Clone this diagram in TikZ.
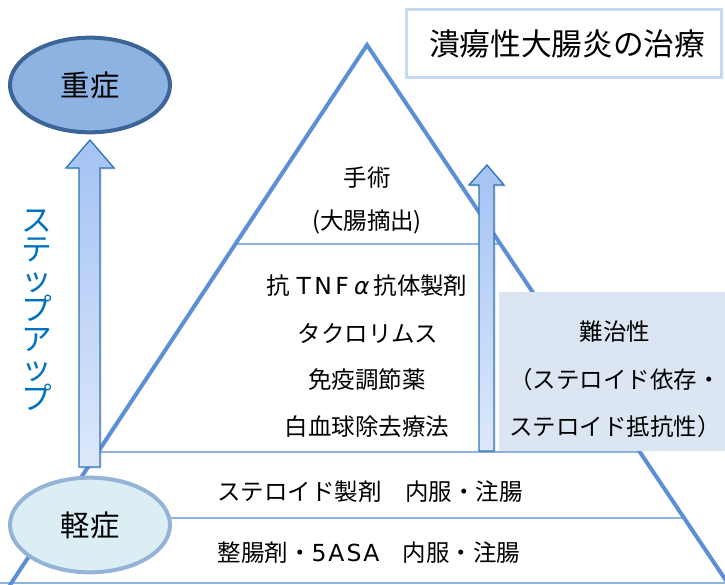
\documentclass[tikz,border=0pt]{standalone}
\usepackage{fontspec}
\setmainfont{Noto Sans CJK JP}
\newfontfamily\latfont{DejaVu Sans}
\usetikzlibrary{shapes.geometric,shadows}
\definecolor{triline}{HTML}{5B8FD8}
\definecolor{thinline}{HTML}{8EB4E3}
\definecolor{arrowedge}{HTML}{2E75B6}
\definecolor{arrowtop}{HTML}{A4C2F4}
\definecolor{arrowbot}{HTML}{DDE8FA}
\definecolor{severefill}{HTML}{8DB3E2}
\definecolor{severeedge}{HTML}{3B6497}
\definecolor{mildfill}{HTML}{DBEEF4}
\definecolor{mildedge}{HTML}{95B3D7}
\definecolor{titleedge}{HTML}{C6D9F1}
\definecolor{hardfill}{HTML}{DCE6F2}
\definecolor{stepblue}{HTML}{0070C0}
\tikzset{
  triedge/.style={draw=triline, line width=3pt, line cap=round},
  layerline/.style={draw=thinline, line width=1.5pt},
  bigarrow/.style={draw=arrowedge, line width=1pt, top color=arrowtop, bottom color=arrowbot,
    drop shadow={opacity=0.25, shadow xshift=1.2pt, shadow yshift=-1.2pt}},
  stagetext/.style={font=\fontsize{17.6}{20}\selectfont, text=black, inner sep=0pt},
  severity/.style={ellipse, minimum width=120pt, minimum height=71pt, inner sep=0pt,
    line width=3pt, font=\fontsize{22}{24}\selectfont},
}
\begin{document}
\begin{tikzpicture}[x=0.75pt,y=-0.75pt]
\useasboundingbox (0,0) rectangle (725,585);
% pyramid corners
\coordinate (apex) at (367,45);
\coordinate (bl) at (10,585);
\coordinate (br) at (729,585);
% layer lines
\draw[layerline] (235,244) -- (500,244);
\draw[layerline] (97,452) -- (639,452);
\draw[layerline] (53,518) -- (683,518);
\draw[layerline] (0,583) -- (725,583);
% pyramid sides
\draw[triedge] (bl) -- (apex) -- (br);
% refractory box
\node[fill=hardfill, minimum width=169.5pt, minimum height=119pt, inner sep=0pt, anchor=north west]
  (hard) at (499,292) {};
\node[stagetext] (hard1) at (615,332) {難治性};
\node[stagetext] (hard2) at (615,380) {（ステロイド依存・};
\node[stagetext] (hard3) at (615,427) {ステロイド抵抗性）};
% title
\node[draw=titleedge, line width=2.2pt, fill=white, minimum width=236pt, minimum height=51pt,
  inner sep=0pt, anchor=north west,
  drop shadow={opacity=0.15, shadow xshift=1pt, shadow yshift=-1pt}] (titlebox) at (405,8) {};
\node[font=\fontsize{23}{25}\selectfont, inner sep=0pt] (title) at (567,44) {潰瘍性大腸炎の治療};
% stage texts
\node[stagetext] (surg) at (367,178) {手術};
\node[stagetext] (surg2) at (367,222) {(大腸摘出)};
\node[stagetext] (tnf) at (367,286) {抗\kern5pt{\latfont T\kern2.5pt N\kern2.5pt F\kern4pt{\itshape α}}\kern3pt 抗体製剤};
\node[stagetext] (tac) at (368,333) {タクロリムス};
\node[stagetext] (imm) at (367,380) {免疫調節薬};
\node[stagetext] (wbc) at (367,427) {白血球除去療法};
\node[stagetext] (ster) at (370,492) {ステロイド製剤　内服・注腸};
\node[stagetext] (asa) at (369,553) {整腸剤・{\latfont 5\kern1.5pt A\kern1.5pt S\kern1.5pt A}　内服・注腸};
% arrows
\draw[bigarrow] (79,467) -- (79,168) -- (66,168) -- (90,140) -- (114,168) -- (100,168) -- (100,467) -- cycle;
\draw[bigarrow] (479,451) -- (479,185) -- (469,185) -- (487,165) -- (504,185) -- (494,185) -- (494,451) -- cycle;
% severity ellipses
\node[severity, draw=severeedge, fill=severefill] (severe) at (90,85) {重症};
\node[severity, draw=mildedge, fill=mildfill] (mild) at (90,525) {軽症};
% step up text
\node[text=stepblue, font=\fontsize{23}{22.3}\selectfont, align=center, inner sep=0pt] (stepup) at (37,310)
  {ス\\テ\\ッ\\プ\\ア\\ッ\\プ};
\end{tikzpicture}
\end{document}
